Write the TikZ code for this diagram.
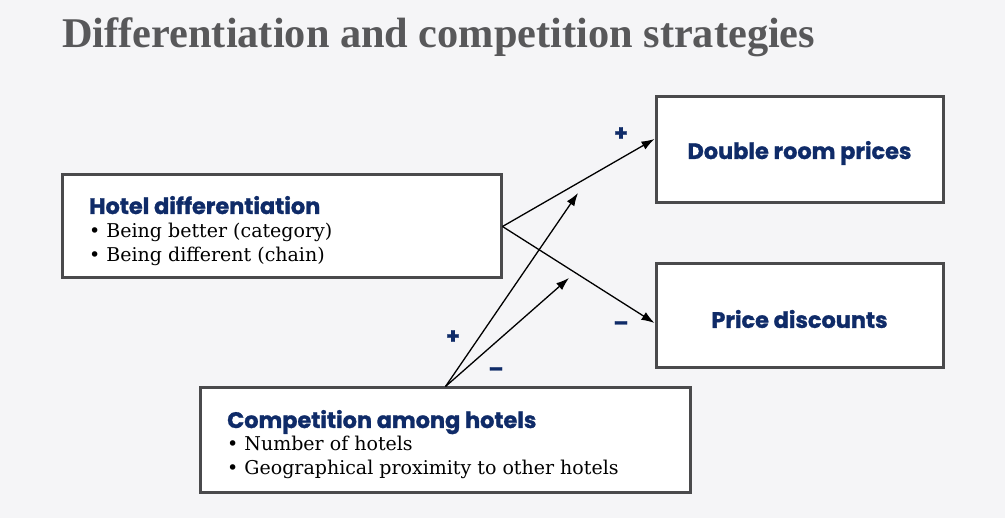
\documentclass[tikz,border=0pt]{standalone}
\usepackage{fontspec}
\setmainfont{DejaVu Serif}
\newfontfamily\titlefont{Liberation Serif}
\newfontfamily\headfont[BoldFeatures={FakeBold=1.2}]{Poppins}
\usetikzlibrary{arrows.meta}
\definecolor{bg}{HTML}{F5F5F7}
\definecolor{navy}{HTML}{0F2B68}
\definecolor{frame}{HTML}{4A4A4C}
\definecolor{titlegray}{HTML}{58585A}
\tikzset{
  box/.style={draw=frame, line width=3pt, fill=white, inner sep=0pt},
  head/.style={anchor=base west, inner sep=0pt, text=navy, font=\headfont\bfseries\fontsize{22.4}{26}\selectfont},
  item/.style={anchor=base west, inner sep=0pt, font=\fontsize{19}{22}\selectfont},
  sign/.style={text=navy, inner sep=0pt, font=\headfont\bfseries\fontsize{22}{24}\selectfont},
  conn/.style={line width=1.3pt, -{Latex[length=13pt,width=9pt]}}
}
\begin{document}
\begin{tikzpicture}[x=1pt,y=-1pt]
\fill[bg] (0,0) rectangle (1005,518);
\useasboundingbox (0,0) rectangle (1005,518);
\node[anchor=base west, inner sep=0pt, text=titlegray] (title) at (62,48)
  {\resizebox{753pt}{!}{\titlefont\bfseries\fontsize{40}{44}\selectfont Differentiation and competition strategies}};
% boxes
\node[box, minimum width=439pt, minimum height=103pt] (hd) at (281.5,226.5) {};
\node[box, minimum width=287pt, minimum height=106pt] (dr) at (799.5,150) {};
\node[box, minimum width=287pt, minimum height=104pt] (pd) at (799.5,316) {};
\node[box, minimum width=490pt, minimum height=105pt] (cp) at (445.5,440.5) {};
% texts
\node[head] (hdh) at (89,214) {Hotel differentiation};
\node[item] (hd1) at (89,238) {• Being better (category)};
\node[item] (hd2) at (89,262) {• Being different (chain)};
\node[head, anchor=center] (drt) at (799.5,153) {Double room prices};
\node[head, anchor=center] (pdt) at (799.5,319) {Price discounts};
\node[head] (cph) at (227,428) {Competition among hotels};
\node[item] (cp1) at (227,451) {• Number of hotels};
\node[item] (cp2) at (227,475) {• Geographical proximity to other hotels};
% connectors
\coordinate (m1) at (578,193);
\coordinate (m2) at (569,278);
\draw[conn] (hd.east) -- ([yshift=11pt]dr.west);
\draw[conn] (hd.east) -- ([yshift=-7pt]pd.west);
\draw[conn] (cp.north) -- (m1);
\draw[conn] (cp.north) -- (m2);
% signs
\node[sign] (s1) at (621,134) {+};
\node[sign] (s2) at (621,326) {–};
\node[sign] (s3) at (453,337) {+};
\node[sign] (s4) at (496,372) {–};
\end{tikzpicture}
\end{document}
